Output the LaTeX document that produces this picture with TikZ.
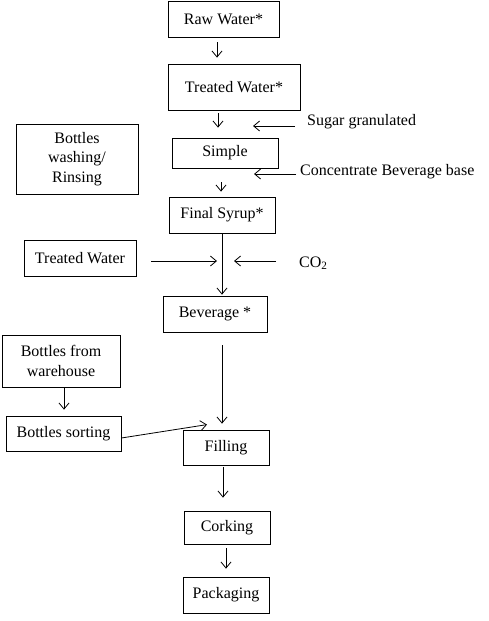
\documentclass[tikz,border=0pt]{standalone}
\usepackage{fontspec}
\setmainfont{Liberation Serif}
\usetikzlibrary{arrows.meta,calc}
\begin{document}
\begin{tikzpicture}[x=1pt,y=-1pt,
  box/.style={draw,line width=0.8pt,inner sep=0pt,align=center,font=\fontsize{16}{19.5}\selectfont},
  lbl/.style={inner sep=0pt,anchor=west,font=\fontsize{16}{19.5}\selectfont},
  arr/.style={line width=0.8pt,-{Straight Barb[length=6pt,width=10pt]}}]
\fill[white] (0,0) rectangle (489,621);
\useasboundingbox (0,0) rectangle (489,621);
% boxes
\node[box,minimum width=111pt,minimum height=36pt] (raw) at (223.5,19) {Raw Water*};
\node[box,minimum width=132pt,minimum height=46pt] (tw) at (234,87) {Treated Water*};
\node[box,minimum width=106pt,minimum height=30pt] (simple) at (225,153) {Simple};
\node[box,minimum width=106pt,minimum height=36pt] (syrup) at (222,215) {Final Syrup*};
\node[box,minimum width=122pt,minimum height=70pt] (wash) at (77,159) {Bottles\\washing/\\Rinsing};
\node[box,minimum width=112pt,minimum height=36pt] (tw2) at (80,258) {Treated Water};
\node[box,minimum width=104pt,minimum height=36pt] (bev) at (215,314) {Beverage *};
\node[box,minimum width=118pt,minimum height=52pt] (bfw) at (61,361) {Bottles from\\warehouse};
\node[box,minimum width=115pt,minimum height=35pt] (sort) at (63.5,433.5) {Bottles sorting};
\node[box,minimum width=86pt,minimum height=35pt] (fill) at (226,447.5) {Filling};
\node[box,minimum width=86pt,minimum height=33pt] (cork) at (227,527.5) {Corking};
\node[box,minimum width=86pt,minimum height=36pt] (pack) at (226,595) {Packaging};
% labels
\node[lbl] (sugar) at (307,122) {Sugar granulated};
\node[lbl] (conc) at (300,172) {Concentrate Beverage base};
\node[lbl] (co2) at (299,263) {CO\textsubscript{2}};
% junction coordinates
\coordinate (jsugar) at (253,126);
\coordinate (jconc) at (254,174);
\coordinate (jtw) at (217,261);
\coordinate (jco2) at (234,261);
% connectors
\draw[arr] ($(raw.south)+(-6.5,5)$) -- ($(tw.north)+(-17,-6)$);
\draw[arr] ($(tw.south)+(-16,3)$) -- ($(simple.north)+(-7,-10)$);
\draw[arr] ($(sugar.west)+(-12,4)$) -- (jsugar);
\draw[arr] ($(conc.west)+(-4,2)$) -- (jconc);
\draw[arr] ($(simple.south)+(-4,14)$) -- ($(syrup.north)+(-1,-5)$);
\draw[arr] (syrup.south) -- ($(bev.north)+(7,-1)$);
\draw[arr] ($(tw2.east)+(15,3)$) -- (jtw);
\draw[arr] ($(co2.west)+(-23,-2)$) -- (jco2);
\draw[arr] ($(bev.south)+(7,13)$) -- ($(fill.north)+(-4,-6)$);
\draw[arr] ($(bfw.south)+(3,1)$) -- ($(sort.north)+(0.5,-6)$);
\draw[arr] ($(sort.east)+(0,4.5)$) -- ($(fill.north)+(-19,-5)$);
\draw[arr] ($(fill.south)+(-3,2)$) -- ($(cork.north)+(-4,-13)$);
\draw[arr] ($(cork.south)+(-1,4)$) -- ($(pack.north)+(0,-8)$);
\end{tikzpicture}
\end{document}
